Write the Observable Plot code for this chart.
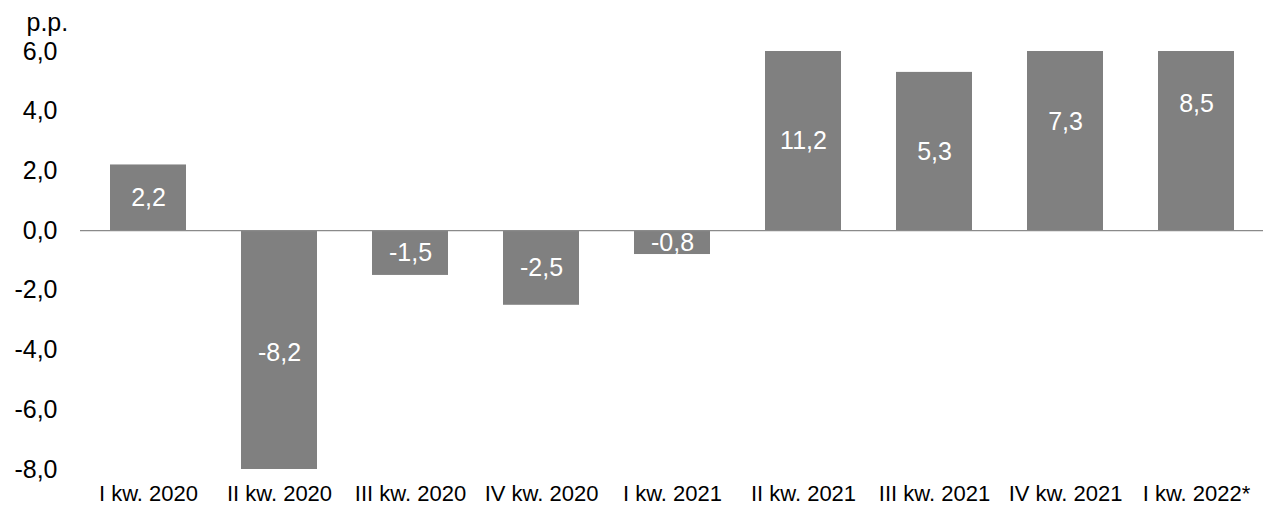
<!DOCTYPE html>
<html>
<head>
<meta charset="utf-8">
<script src="https://cdn.jsdelivr.net/npm/d3@7"></script>
<script src="https://cdn.jsdelivr.net/npm/@observablehq/plot@0.6"></script>
<style>
  html, body { margin: 0; padding: 0; background: #fff; }
  #chart svg { display: block; }
</style>
</head>
<body>
<div id="chart"></div>
<script>
const categories = ["I kw. 2020", "II kw. 2020", "III kw. 2020", "IV kw. 2020", "I kw. 2021", "II kw. 2021", "III kw. 2021", "IV kw. 2021", "I kw. 2022*"];
const values = [2.2, -8.2, -1.5, -2.5, -0.8, 11.2, 5.3, 7.3, 8.5];
const yTicks = [-8, -6, -4, -2, 0, 2, 4, 6];
const yUnit = "p.p.";

const yMin = -8, yMax = 6;
const fmt = v => v.toFixed(1).replace(".", ",");

const data = categories.map((c, i) => {
  const v = values[i];
  const half = v / 2;
  const ly = half > 0.8 * yMax ? Math.min(v, yMax) / 2 : half;
  return {cat: c, v, ly};
});

const font = "'Liberation Sans', Arial, sans-serif";

const chart = Plot.plot({
  width: 1268,
  height: 506,
  marginLeft: 80,
  marginRight: 5,
  marginTop: 51,
  marginBottom: 37,
  style: {fontFamily: font, background: "#fff", color: "#000"},
  x: {domain: categories, paddingInner: 0.42, paddingOuter: 0.21, label: null},
  y: {domain: [yMin, yMax], clamp: true, label: null},
  marks: [
    Plot.barY(data, {x: "cat", y1: 0, y2: "v", fill: "#808080"}),
    Plot.ruleY([0], {stroke: "#8a8a8a", strokeWidth: 1.4}),
    Plot.text(data, {x: "cat", y: "ly", text: d => fmt(d.v), fill: "#fff", fontSize: 25}),
    Plot.axisY({ticks: yTicks, tickSize: 0, tickPadding: 23, tickFormat: fmt, fontSize: 25, label: null}),
    Plot.axisX({tickSize: 0, tickPadding: 16, fontSize: 22, label: null}),
    Plot.text([yUnit], {frameAnchor: "top-left", text: d => d, dx: -54, dy: -21, lineAnchor: "bottom", textAnchor: "start", fontSize: 25, fill: "#000"})
  ]
});
document.getElementById("chart").appendChild(chart);
</script>
</body>
</html>
